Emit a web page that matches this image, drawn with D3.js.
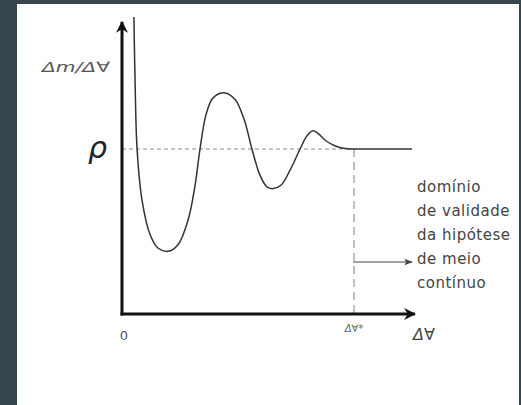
<!DOCTYPE html>
<html>
<head>
<meta charset="utf-8">
<script src="https://cdn.jsdelivr.net/npm/d3@7"></script>
<style>
  html, body { margin: 0; padding: 0; background: #37474f; }
  svg { display: block; }
</style>
</head>
<body>
<svg id="chart" width="521" height="405"></svg>
<script>
// Density ratio Δm/Δ∀ as the sampled volume Δ∀ grows
const curveX = [0.41, 0.45, 0.52, 0.69, 0.97, 1.24, 1.59, 1.93, 2.28, 2.52, 2.69, 2.90, 3.14, 3.55,
                3.90, 4.21, 4.48, 4.76, 5.00, 5.21, 5.48, 5.79, 6.14, 6.38, 6.59, 6.79, 7.03, 7.34,
                7.69, 8.03, 9.0, 10.0];
const curveY = [1.80, 1.42, 1.00, 0.69, 0.48, 0.40, 0.38, 0.42, 0.57, 0.78, 1.00, 1.21, 1.31, 1.34,
                1.30, 1.18, 1.00, 0.84, 0.77, 0.76, 0.78, 0.87, 1.00, 1.08, 1.11, 1.09, 1.05, 1.02,
                1.003, 1.00, 1.00, 1.00];
const rhoLevel = 1;        // ρ
const xStar = 8;           // Δ∀*
const xAxisEnd = 10.1;
const yAxisEnd = 1.77;
const noteLines = ["domínio", "de validade", "da hipótese", "de meio", "contínuo"];
const labels = { y: "Δm/Δ∀", rho: "ρ", origin: "0", xStar: "Δ∀*", x: "Δ∀" };

const svg = d3.select("#chart");

// white sheet
svg.append("rect").attr("x", 17).attr("y", 4).attr("width", 502).attr("height", 401).attr("fill", "#ffffff");

const x = d3.scaleLinear().domain([0, 10]).range([122, 412]);
const y = d3.scaleLinear().domain([0, 1]).range([314, 149]);

const defs = svg.append("defs");
defs.append("marker").attr("id", "headSolid")
  .attr("viewBox", "0 0 10 10").attr("refX", 9).attr("refY", 5)
  .attr("markerWidth", 4).attr("markerHeight", 4).attr("orient", "auto")
  .attr("markerUnits", "strokeWidth")
  .append("path").attr("d", "M0,0 L10,5 L0,10 L3,5 Z").attr("fill", "#111");
defs.append("marker").attr("id", "headOpen")
  .attr("viewBox", "0 0 10 10").attr("refX", 9).attr("refY", 5)
  .attr("markerWidth", 7).attr("markerHeight", 7).attr("orient", "auto")
  .attr("markerUnits", "strokeWidth")
  .append("path").attr("d", "M0,1 L10,5 L0,9 L2,5 Z").attr("fill", "#444");

// ρ reference line
svg.append("line")
  .attr("x1", x(0)).attr("x2", x(xStar)).attr("y1", y(rhoLevel)).attr("y2", y(rhoLevel))
  .attr("stroke", "#8a8a8a").attr("stroke-width", 1).attr("stroke-dasharray", "4,3");

// Δ∀* marker line
svg.append("line")
  .attr("x1", x(xStar)).attr("x2", x(xStar)).attr("y1", y(rhoLevel)).attr("y2", y(0))
  .attr("stroke", "#aaaaaa").attr("stroke-width", 1.5).attr("stroke-dasharray", "8,5");

// axes
svg.append("line")
  .attr("x1", x(0)).attr("x2", x(0)).attr("y1", y(0) + 1.5).attr("y2", y(yAxisEnd))
  .attr("stroke", "#111").attr("stroke-width", 3).attr("marker-end", "url(#headSolid)");
svg.append("line")
  .attr("x1", x(0) - 1.5).attr("x2", x(xAxisEnd)).attr("y1", y(0)).attr("y2", y(0))
  .attr("stroke", "#111").attr("stroke-width", 3).attr("marker-end", "url(#headSolid)");

// measured curve
const pts = curveX.map((v, i) => [v, curveY[i]]);
svg.append("path")
  .datum(pts)
  .attr("d", d3.line().x(d => x(d[0])).y(d => y(d[1])).curve(d3.curveCatmullRom.alpha(0.5)))
  .attr("fill", "none").attr("stroke", "#333").attr("stroke-width", 1.5);

// arrow pointing into the continuum region
svg.append("line")
  .attr("x1", x(xStar) - 1).attr("x2", 412).attr("y1", 262).attr("y2", 262)
  .attr("stroke", "#444").attr("stroke-width", 1.2).attr("marker-end", "url(#headOpen)");

// labels
svg.append("text").attr("x", 42).attr("y", 72)
  .attr("textLength", 68).attr("lengthAdjust", "spacingAndGlyphs")
  .attr("font-family", "DejaVu Sans").attr("font-style", "italic").attr("font-size", 14)
  .attr("fill", "#555").text(labels.y);
svg.append("text").attr("x", 107).attr("y", 158).attr("text-anchor", "end")
  .attr("font-family", "DejaVu Sans").attr("font-style", "italic").attr("font-size", 30)
  .attr("fill", "#222").text(labels.rho);
svg.append("text").attr("x", x(0) + 2).attr("y", 340).attr("text-anchor", "middle")
  .attr("font-family", "DejaVu Sans").attr("font-size", 13)
  .attr("fill", "#555").text(labels.origin);
svg.append("text").attr("x", x(xStar)).attr("y", 332).attr("text-anchor", "middle")
  .attr("font-family", "DejaVu Sans").attr("font-style", "italic").attr("font-size", 10)
  .attr("fill", "#666").text(labels.xStar);
svg.append("text").attr("x", 424).attr("y", 340).attr("text-anchor", "middle")
  .attr("font-family", "DejaVu Sans").attr("font-style", "italic").attr("font-size", 16)
  .attr("fill", "#444").text(labels.x);

svg.append("g").selectAll("text").data(noteLines).join("text")
  .attr("x", 417).attr("y", (d, i) => 192 + i * 24)
  .attr("font-family", "DejaVu Sans").attr("font-size", 15).attr("letter-spacing", 0.5)
  .attr("fill", "#444").text(d => d);
</script>
</body>
</html>
